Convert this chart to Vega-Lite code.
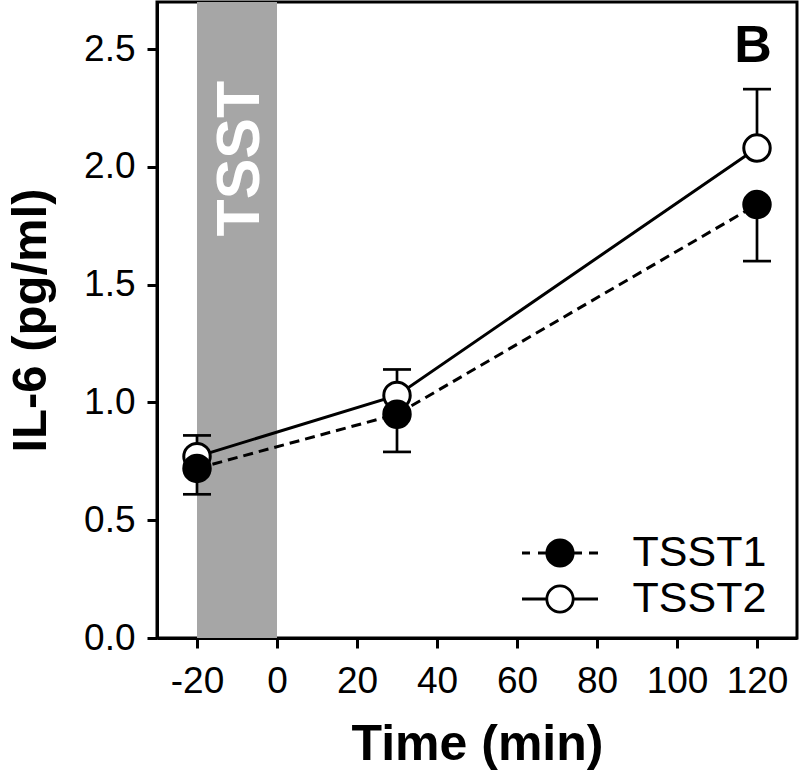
{
  "$schema": "https://vega.github.io/schema/vega-lite/v6.json",
  "width": 640,
  "height": 636,
  "autosize": "none",
  "padding": {"left": 157, "top": 2, "right": 3, "bottom": 137},
  "background": "white",
  "config": {
    "font": "Liberation Sans",
    "view": {"stroke": "black", "strokeWidth": 3},
    "axis": {
      "grid": false,
      "domainColor": "black",
      "domainWidth": 3,
      "tickColor": "black",
      "tickWidth": 3,
      "tickSize": 10,
      "labelColor": "black",
      "titleColor": "black",
      "labelFont": "Liberation Sans",
      "titleFont": "Liberation Sans",
      "labelFontSize": 37,
      "titleFontSize": 50,
      "titleFontWeight": "bold"
    }
  },
  "datasets": {
    "il6": [
      {"time": -20, "group": "TSST2", "il6": 0.77, "bound": 0.86},
      {"time": 30, "group": "TSST2", "il6": 1.03, "bound": 1.14},
      {"time": 120, "group": "TSST2", "il6": 2.08, "bound": 2.33},
      {"time": -20, "group": "TSST1", "il6": 0.72, "bound": 0.61},
      {"time": 30, "group": "TSST1", "il6": 0.95, "bound": 0.79},
      {"time": 120, "group": "TSST1", "il6": 1.84, "bound": 1.6}
    ],
    "band": [{"start": -20, "end": 0}],
    "notes": [
      {"label": "TSST", "x": -9, "y": 2.035, "kind": "band"},
      {"label": "B", "x": 119, "y": 2.445, "kind": "panel"}
    ]
  },
  "layer": [
    {
      "data": {"name": "band"},
      "mark": {"type": "rect", "color": "#a6a6a6"},
      "encoding": {
        "x": {"field": "start", "type": "quantitative", "scale": {"domain": [-30, 130], "nice": false, "zero": false},
          "axis": {"values": [-20, 0, 20, 40, 60, 80, 100, 120], "labelExpr": "'' + datum.value", "labelPadding": 15, "title": "Time (min)", "titlePadding": 20}},
        "x2": {"field": "end"}
      }
    },
    {
      "data": {"name": "notes"},
      "transform": [{"filter": "datum.kind === 'band'"}],
      "mark": {"type": "text", "angle": 270, "color": "white", "fontSize": 61, "fontWeight": "bold", "align": "center", "baseline": "middle"},
      "encoding": {
        "x": {"field": "x", "type": "quantitative"},
        "y": {"field": "y", "type": "quantitative"},
        "text": {"field": "label"}
      }
    },
    {
      "data": {"name": "notes"},
      "transform": [{"filter": "datum.kind === 'panel'"}],
      "mark": {"type": "text", "color": "black", "fontSize": 52, "fontWeight": "bold", "align": "center", "baseline": "alphabetic"},
      "encoding": {
        "x": {"field": "x", "type": "quantitative"},
        "y": {"field": "y", "type": "quantitative"},
        "text": {"field": "label"}
      }
    },
    {
      "data": {"name": "il6"},
      "mark": {"type": "rule", "color": "black", "strokeWidth": 2.7},
      "encoding": {
        "x": {"field": "time", "type": "quantitative"},
        "y": {"field": "il6", "type": "quantitative"},
        "y2": {"field": "bound"}
      }
    },
    {
      "data": {"name": "il6"},
      "mark": {"type": "tick", "orient": "horizontal", "color": "black", "size": 28, "thickness": 2.7, "opacity": 1},
      "encoding": {
        "x": {"field": "time", "type": "quantitative"},
        "y": {"field": "bound", "type": "quantitative"}
      }
    },
    {
      "data": {"name": "il6"},
      "transform": [{"filter": "datum.group === 'TSST1'"}],
      "mark": {"type": "line", "color": "black", "strokeWidth": 3, "strokeDash": [10, 6]},
      "encoding": {
        "x": {"field": "time", "type": "quantitative"},
        "y": {"field": "il6", "type": "quantitative"}
      }
    },
    {
      "data": {"name": "il6"},
      "transform": [{"filter": "datum.group === 'TSST2'"}],
      "mark": {"type": "line", "color": "black", "strokeWidth": 3},
      "encoding": {
        "x": {"field": "time", "type": "quantitative"},
        "y": {"field": "il6", "type": "quantitative", "scale": {"domain": [0, 2.7], "nice": false},
          "axis": {"values": [0, 0.5, 1, 1.5, 2, 2.5], "format": ".1f", "labelPadding": 12, "title": "IL-6 (pg/ml)", "titleFontSize": 49, "titlePadding": 28}}
      }
    },
    {
      "data": {"name": "il6"},
      "mark": {"type": "point", "shape": "circle", "filled": true, "size": 700, "stroke": "black", "strokeWidth": 3, "opacity": 1},
      "encoding": {
        "x": {"field": "time", "type": "quantitative"},
        "y": {"field": "il6", "type": "quantitative"},
        "fill": {"field": "group", "type": "nominal", "scale": {"domain": ["TSST1", "TSST2"], "range": ["black", "white"]},
          "legend": {
            "title": null,
            "orient": "none",
            "legendX": 364.5,
            "legendY": 529.5,
            "padding": 0,
            "symbolSize": 1600,
            "symbolStrokeWidth": 2.8,
            "symbolStrokeColor": "black",
            "symbolOpacity": 1,
            "symbolType": {"expr": "datum.value === 'TSST1' ? 'M-1.9,0H-1.5M-1.1,0H-0.66M0.66,0H1.1M1.45,0H1.9M0.66,0A0.66,0.66 0 1,1 -0.66,0A0.66,0.66 0 1,1 0.66,0Z' : 'M-1.9,0H-0.66M0.66,0H1.9M0.66,0A0.66,0.66 0 1,1 -0.66,0A0.66,0.66 0 1,1 0.66,0Z'"},
            "symbolOffset": 17,
            "labelOffset": 51,
            "labelFontSize": 43,
            "labelFont": "Liberation Sans",
            "labelColor": "black",
            "rowPadding": 2
          }
        }
      }
    }
  ]
}
